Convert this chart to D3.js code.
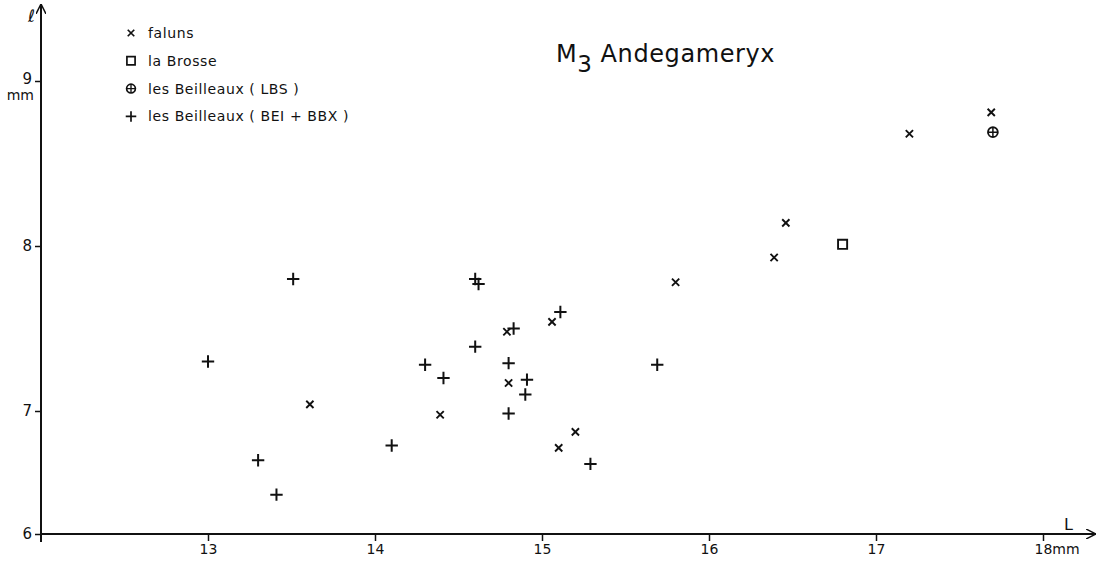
<!DOCTYPE html>
<html>
<head>
<meta charset="utf-8">
<script src="https://cdn.jsdelivr.net/npm/d3@7"></script>
<style>
  body { margin: 0; background: #fff; }
  text { font-family: "DejaVu Sans", sans-serif; fill: #111; }
</style>
</head>
<body>
<div id="chart"></div>
<script>
// M3 Andegameryx : length L (mm) vs width l (mm)
var xTicks = [13, 14, 15, 16, 17, 18];
var yTicks = [6, 7, 8, 9];

// faluns (x)
var falunsL = [13.61, 14.39, 14.79, 14.80, 15.06, 15.10, 15.20, 15.80, 16.39, 16.46, 17.20, 17.69];
var falunsW = [7.04, 6.97, 7.48, 7.17, 7.54, 6.70, 6.83, 7.78, 7.93, 8.14, 8.68, 8.81];
// la Brosse (square)
var brosseL = [16.80];
var brosseW = [8.01];
// les Beilleaux LBS (circled plus)
var lbsL = [17.70];
var lbsW = [8.69];
// les Beilleaux BEI + BBX (+)
var beiL = [13.00, 13.30, 13.41, 13.51, 14.10, 14.30, 14.41, 14.60, 14.60, 14.62, 14.80, 14.80, 14.83, 14.90, 14.91, 15.11, 15.29, 15.69];
var beiW = [7.30, 6.60, 6.32, 7.80, 6.72, 7.28, 7.20, 7.39, 7.80, 7.77, 7.29, 6.98, 7.50, 7.10, 7.19, 7.60, 6.57, 7.28];

var legendLabels = ["faluns", "la Brosse", "les Beilleaux ( LBS )", "les Beilleaux ( BEI + BBX )"];

var fullWidth = 1098;
var fullHeight = 561;

var svg = d3.select("#chart")
  .append("svg")
  .attr("width", fullWidth)
  .attr("height", fullHeight);

// scales (y axis is squeezed below 7 in the original drawing)
var x = d3.scaleLinear().domain([12, 18]).range([41, 1043]);
var y = d3.scaleLinear().domain([6, 7, 9]).range([534, 411, 81]);

// arrow head
svg.append("defs").append("marker")
  .attr("id", "arrow")
  .attr("viewBox", "0 0 10 10")
  .attr("refX", 10).attr("refY", 5)
  .attr("markerWidth", 10).attr("markerHeight", 10)
  .attr("markerUnits", "userSpaceOnUse")
  .attr("orient", "auto")
  .append("path")
  .attr("d", "M0,0 L10,5 L0,10")
  .attr("fill", "none")
  .attr("stroke", "#111")
  .attr("stroke-width", 1.5);

// axes lines
svg.append("line")
  .attr("x1", x(12)).attr("x2", 1096)
  .attr("y1", y(6)).attr("y2", y(6))
  .attr("stroke", "#111").attr("stroke-width", 2)
  .attr("marker-end", "url(#arrow)");
svg.append("line")
  .attr("x1", x(12)).attr("x2", x(12))
  .attr("y1", y(6) + 8).attr("y2", 4)
  .attr("stroke", "#111").attr("stroke-width", 2)
  .attr("marker-end", "url(#arrow)");

var xAxis = d3.axisBottom(x).tickValues(xTicks).tickSize(7).tickPadding(3).tickFormat(d3.format("d"));
var gx = svg.append("g")
  .attr("transform", "translate(0," + y(6) + ")")
  .call(xAxis);
gx.select(".domain").remove();
gx.selectAll("line").attr("stroke", "#111").attr("stroke-width", 1.5);
gx.selectAll("text").attr("font-size", 14).attr("fill", "#111");
gx.selectAll(".tick").filter(function(d) { return d === 18; })
  .select("text").attr("text-anchor", "start").attr("dx", -9).text("18mm");

var yAxis = d3.axisLeft(y).tickValues(yTicks).tickSize(6).tickPadding(3).tickFormat(d3.format("d"));
var gy = svg.append("g")
  .attr("transform", "translate(" + x(12) + ",0)")
  .call(yAxis);
gy.select(".domain").remove();
gy.selectAll("line").attr("stroke", "#111").attr("stroke-width", 1.5);
gy.selectAll("text").attr("font-size", 15).attr("fill", "#111");
var nine = gy.selectAll(".tick").filter(function(d) { return d === 9; });
nine.select("text").attr("dy", "0.15em");
nine.append("text").attr("x", -7).attr("y", 18).attr("text-anchor", "end")
  .attr("font-size", 14).attr("fill", "#111").text("mm");

// axis names
svg.append("text").attr("x", 1064).attr("y", 530).attr("font-size", 16).text("L");
svg.append("text").attr("x", 28).attr("y", 22).attr("font-size", 17).attr("font-style", "italic").text("\u2113");

// title
var title = svg.append("text").attr("x", 556).attr("y", 62).attr("font-size", 24).attr("letter-spacing", 0.6);
title.append("tspan").text("M");
title.append("tspan").attr("dy", 10).attr("font-size", 23).text("3");
title.append("tspan").attr("dy", -10).attr("dx", 8).text("Andegameryx");

// marker shapes
var plusPath = d3.symbol(d3.symbolPlus, 52)();
var timesPath = d3.symbol(d3.symbolTimes, 36)();
var squarePath = d3.symbol(d3.symbolSquare2, 105)();
var innerPlusPath = d3.symbol(d3.symbolPlus, 30)();
var circlePath = d3.symbol(d3.symbolCircle, 75)();

function drawMarks(cls, L, W, fn) {
  var g = svg.append("g").attr("class", cls);
  var pts = L.map(function(d, i) { return {l: d, w: W[i]}; });
  var sel = g.selectAll("g").data(pts).enter().append("g")
    .attr("transform", function(d) { return "translate(" + x(d.l) + "," + y(d.w) + ")"; });
  fn(sel);
}

function drawPlus(sel) {
  sel.append("path").attr("d", plusPath).attr("fill", "none").attr("stroke", "#111").attr("stroke-width", 2);
}
function drawTimes(sel) {
  sel.append("path").attr("d", timesPath).attr("fill", "none").attr("stroke", "#111").attr("stroke-width", 1.9);
}
function drawSquare(sel) {
  sel.append("path").attr("d", squarePath).attr("fill", "none").attr("stroke", "#111").attr("stroke-width", 1.9);
}
function drawLbs(sel) {
  sel.append("path").attr("d", circlePath).attr("fill", "none").attr("stroke", "#111").attr("stroke-width", 1.9);
  sel.append("path").attr("d", innerPlusPath).attr("fill", "none").attr("stroke", "#111").attr("stroke-width", 1.5);
}

drawMarks("faluns", falunsL, falunsW, drawTimes);
drawMarks("brosse", brosseL, brosseW, drawSquare);
drawMarks("lbs", lbsL, lbsW, drawLbs);
drawMarks("bei", beiL, beiW, drawPlus);

// legend
var legendFns = [drawTimes, drawSquare, drawLbs, drawPlus];
var legend = svg.append("g").attr("transform", "translate(131,33)");
legendLabels.forEach(function(label, i) {
  var item = legend.append("g").attr("transform", "translate(0," + (i * 27.8) + ")");
  legendFns[i](item.append("g").attr("transform", i === 3 ? "scale(0.85)" : "scale(0.9)"));
  item.append("text").attr("x", 17).attr("y", 5).attr("font-size", 14).attr("letter-spacing", 0.6).text(label);
});
</script>
</body>
</html>
